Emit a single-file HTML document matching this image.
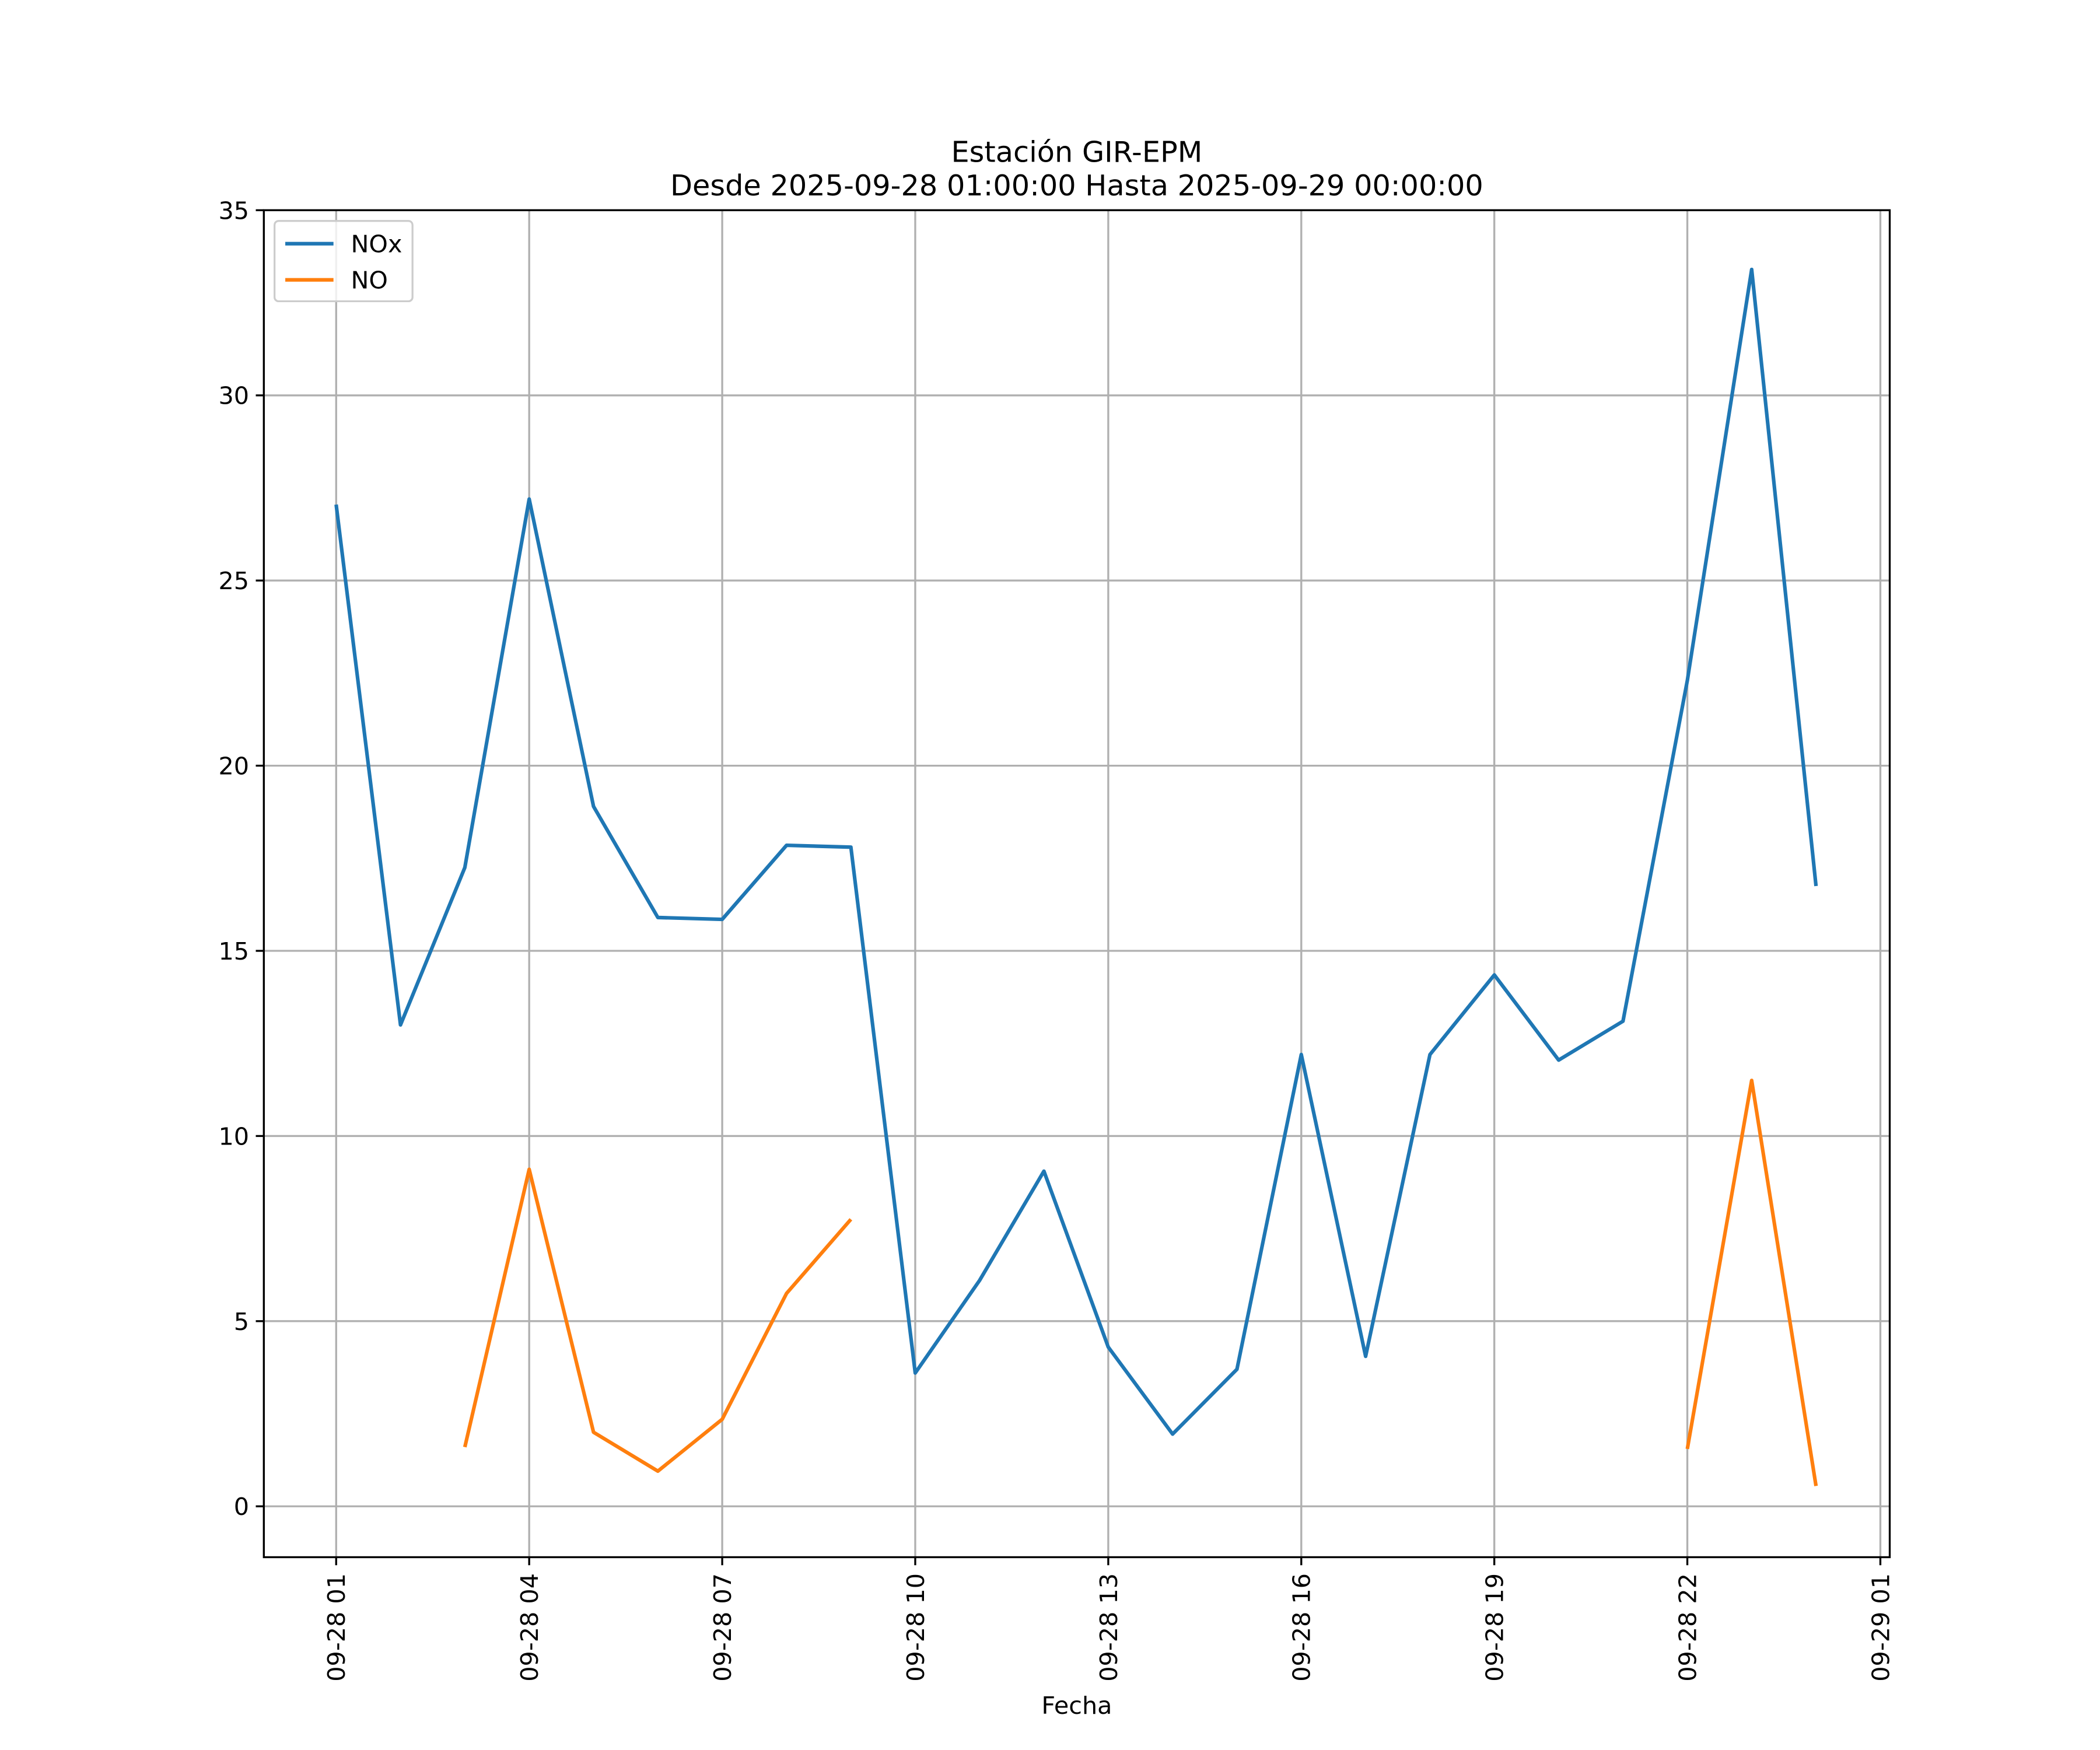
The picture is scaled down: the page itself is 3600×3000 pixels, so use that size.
<!DOCTYPE html>
<html><head><meta charset="utf-8"><style>
html,body{margin:0;padding:0;background:#fff;}
svg{display:block;font-family:"DejaVu Sans","Liberation Sans",sans-serif;}
</style></head><body>
<svg id="chart" width="3600" height="3000" viewBox="0 0 1568 1307" preserveAspectRatio="none" xmlns="http://www.w3.org/2000/svg">
<rect width="1568" height="1307" fill="#fff"/>
<text x="804" y="121" text-anchor="middle" font-size="21.5">Estación GIR-EPM</text>
<text x="804" y="146" text-anchor="middle" font-size="21.5">Desde 2025-09-28 01:00:00 Hasta 2025-09-29 00:00:00</text>
<g id="grid"></g>
<g id="series"></g>
<rect x="197" y="157" width="1214" height="1006" fill="none" stroke="#000" stroke-width="1.45"/>
<g id="ticks"></g>
<text x="804" y="1280" text-anchor="middle" font-size="18">Fecha</text>
<g>
<rect x="205" y="165" width="103" height="60" rx="3" fill="#fff" fill-opacity="0.8" stroke="#ccc" stroke-width="1.4"/>
<line x1="213" y1="182" x2="249" y2="182" stroke="#1f77b4" stroke-width="2.7"/>
<text x="262" y="188.5" font-size="18">NOx</text>
<line x1="213" y1="209" x2="249" y2="209" stroke="#ff7f0e" stroke-width="2.7"/>
<text x="262" y="215.5" font-size="18">NO</text>
</g>
</svg>
<script>
const hours = [1,2,3,4,5,6,7,8,9,10,11,12,13,14,15,16,17,18,19,20,21,22,23,24];
const noxValues = [27.05,13.0,17.25,27.2,18.9,15.9,15.85,17.85,17.8,3.6,6.1,9.05,4.3,1.95,3.7,12.2,4.05,12.2,14.35,12.05,13.1,22.3,33.4,16.75];
const noValues = [null,null,1.6,9.1,2.0,0.95,2.35,5.75,7.75,null,null,null,null,null,null,null,null,null,null,null,null,1.55,11.5,0.55];
const yTicks = [0,5,10,15,20,25,30,35];
const xTickHours = [1,4,7,10,13,16,19,22,25];
const xTickLabels = ["09-28 01","09-28 04","09-28 07","09-28 10","09-28 13","09-28 16","09-28 19","09-28 22","09-29 01"];

const NS="http://www.w3.org/2000/svg";
const xS = h => 251 + (h-1)*(1404-251)/24;
const yS = v => 1125 - v*(1125-157)/35;
function mk(tag, attrs, parent){const e=document.createElementNS(NS,tag);for(const k in attrs)e.setAttribute(k,attrs[k]);parent.appendChild(e);return e;}
const grid=document.getElementById('grid'), ticks=document.getElementById('ticks'), series=document.getElementById('series');
yTicks.forEach(v=>{
  const y=yS(v);
  const g=mk('line',{x1:197,x2:1411,y1:y,y2:y,stroke:'#b0b0b0','stroke-width':1.45},grid);
  
  
  mk('line',{x1:197,x2:191,y1:y,y2:y,stroke:'#000','stroke-width':1.45},ticks);
  const t=mk('text',{x:186,y:y+6.5,'text-anchor':'end','font-size':18},ticks);
  t.textContent=v;
  
  
});
xTickHours.forEach((h,i)=>{
  const x=xS(h);
  const g=mk('line',{x1:x,x2:x,y1:157,y2:1163,stroke:'#b0b0b0','stroke-width':1.45},grid);
  
  
  mk('line',{x1:x,x2:x,y1:1163,y2:1169,stroke:'#000','stroke-width':1.45},ticks);
  const t=mk('text',{x:0,y:0,'text-anchor':'end','font-size':18,transform:`translate(${x+6.5},1175) rotate(-90)`},ticks);
  t.textContent=xTickLabels[i];
  
  
});
function drawSeries(vals,color,name){
  let segs=[],cur=[];
  vals.forEach((v,i)=>{if(v===null){if(cur.length)segs.push(cur);cur=[];}else cur.push(xS(hours[i])+','+yS(v));});
  if(cur.length)segs.push(cur);
  segs.forEach(s=>{
    const p=mk('polyline',{points:s.join(' '),fill:'none',stroke:color,'stroke-width':2.7,'stroke-linejoin':'round'},series);
    
    
  });
}
drawSeries(noxValues,'#1f77b4','nox-line');
drawSeries(noValues,'#ff7f0e','no-line');
</script>
</body></html>
